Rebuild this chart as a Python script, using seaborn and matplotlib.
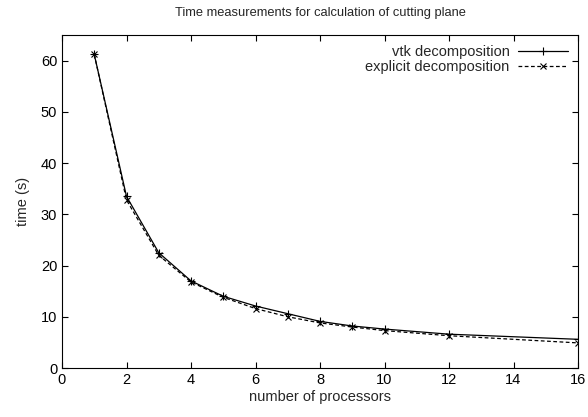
import numpy as np
import pandas as pd
import seaborn as sns
import matplotlib
matplotlib.use('Agg')
import matplotlib.pyplot as plt

procs = [1, 2, 3, 4, 5, 6, 7, 8, 9, 10, 12, 16]
vtk_time = [61.2, 33.5, 22.5, 17.0, 14.0, 12.1, 10.6, 9.1, 8.2, 7.6, 6.6, 5.6]
explicit_time = [61.2, 32.8, 22.0, 16.8, 13.8, 11.6, 10.0, 8.8, 8.0, 7.3, 6.3, 4.9]

sns.set_style('ticks')
plt.rcParams['font.family'] = ['Liberation Sans', 'DejaVu Sans']
plt.rcParams['font.size'] = 10.5

fig = plt.figure(figsize=(5.88, 4.17), dpi=100)
ax = fig.add_axes([62/588, (417-368)/417, 516/588, 333/417])

# seaborn defaults marker edges to white, so set them black
sns.lineplot(x=procs, y=vtk_time, color='black', linestyle='-', marker='+',
             markersize=6, markeredgewidth=0.8, markeredgecolor='black', linewidth=0.9,
             label='vtk decomposition', ax=ax)
sns.lineplot(x=procs, y=explicit_time, color='black', linestyle=(0, (3, 2)), marker='x',
             markersize=4.5, markeredgewidth=0.8, markeredgecolor='black', linewidth=0.9,
             label='explicit decomposition', ax=ax)

ax.set_xlim(0, 16)
ax.set_ylim(0, 65)
ax.set_xticks(range(0, 17, 2))
ax.set_yticks(range(0, 61, 10))
ax.tick_params(direction='in', top=True, right=True, length=4, width=0.8, labelsize=10.5, colors='black')
for s in ax.spines.values():
    s.set_visible(True)
    s.set_linewidth(0.8)
    s.set_color('black')
ax.set_xlabel('number of processors', fontsize=10.5, labelpad=2)
ax.set_ylabel('time (s)', fontsize=10.5, labelpad=8)
ax.set_title('Time measurements for calculation of cutting plane', fontsize=9.3, pad=14)

ax.legend(loc='upper right', frameon=False, markerfirst=False, fontsize=10.5,
          handlelength=3.4, borderaxespad=0.3, labelspacing=0.05, handletextpad=0.6)

fig.savefig('out.png', dpi=100)
